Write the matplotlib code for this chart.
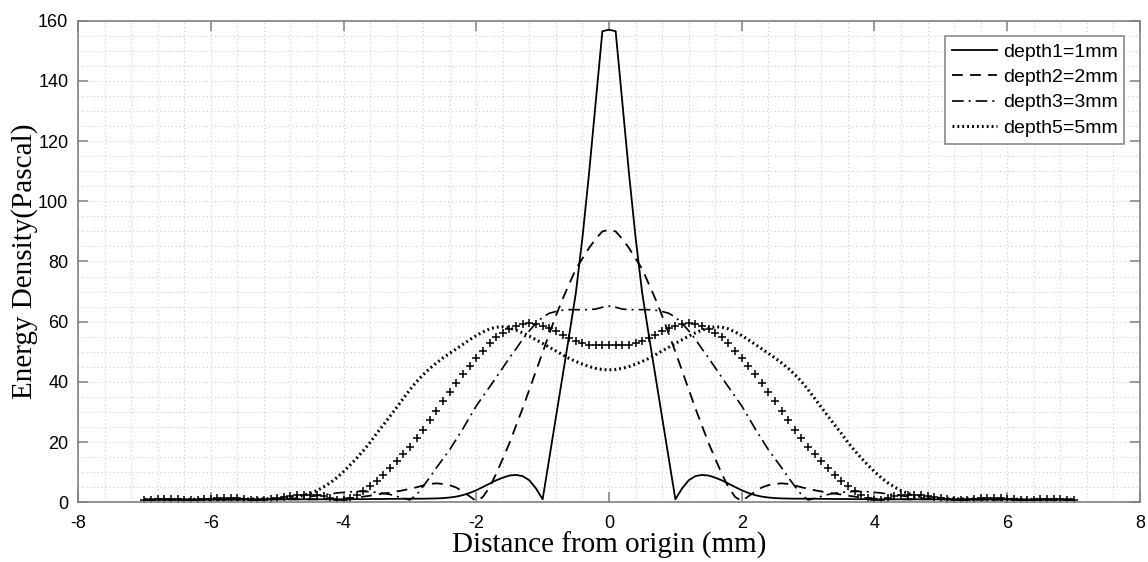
import numpy as np
import matplotlib
matplotlib.use("Agg")
import matplotlib.pyplot as plt
from matplotlib.ticker import MultipleLocator

# distance from origin (mm), read at 0.1 mm steps from 0 to 7; the curves are symmetric
x_half = np.round(np.arange(0, 71) / 10.0, 1)

depth1_half = [157, 156.5, 133, 109.5, 88, 69.5, 55.5, 41.8, 28.2, 14.6,
               1.0, 4.6, 7.3, 8.7, 9.1, 8.9, 8.2, 7.3, 6.2, 5.1,
               4.0, 3.1, 2.4, 1.9, 1.6, 1.4, 1.3, 1.25, 1.2, 1.2,
               1.2, 1.2, 1.15, 1.15, 1.1, 1.1, 1.1, 1.05, 1.05, 1.05,
               1.0, 1.0, 1.0, 1.0, 1.0, 1.0, 1.0, 1.0, 1.0, 1.0,
               1.0, 1.0, 1.0, 0.95, 0.95, 0.95, 0.95, 0.95, 0.95, 0.95,
               0.95, 0.9, 0.9, 0.9, 0.9, 0.9, 0.9, 0.9, 0.9, 0.9,
               0.9]

depth2_half = [90.5, 90, 87.5, 84.5, 81, 77.5, 72.5, 67.5, 62, 56,
               50, 43.8, 37.5, 31.3, 25.5, 19.7, 14.5, 9.5, 5.0, 1.8,
               0.4, 2.0, 3.5, 4.9, 5.7, 6.1, 6.3, 6.1, 5.6, 5.0,
               4.5, 4.0, 3.6, 3.2, 2.9, 2.6, 2.2, 1.9, 1.6, 1.4,
               1.2, 1.1, 1.1, 1.0, 1.0, 1.0, 1.0, 1.0, 1.0, 1.0,
               1.0, 1.0, 1.0, 1.0, 1.0, 0.95, 0.95, 0.95, 0.95, 0.95,
               0.95, 0.95, 0.9, 0.9, 0.9, 0.9, 0.9, 0.9, 0.9, 0.9,
               0.9]

depth3_half = [65.2, 64.8, 64.2, 64.0, 64.0, 64.0, 64.0, 63.8, 63.4, 62.8,
               61.5, 59.5, 57.0, 54.2, 51.0, 48.0, 44.7, 41.5, 38.3, 35.2,
               32.0, 28.3, 24.5, 21.0, 17.5, 14.5, 11.5, 8.3, 5.3, 2.5,
               0.8, 1.3, 2.0, 2.6, 3.0, 3.3, 3.5, 3.6, 3.6, 3.5,
               3.3, 3.1, 2.8, 2.5, 2.2, 1.9, 1.6, 1.4, 1.2, 1.1,
               1.0, 1.0, 1.0, 1.0, 1.0, 1.0, 1.0, 1.0, 0.95, 0.95,
               0.95, 0.95, 0.95, 0.9, 0.9, 0.9, 0.9, 0.9, 0.9, 0.9,
               0.9]

# marker-only curve (depth4), not listed in the legend
depth4_half = [52.3, 52.3, 52.3, 52.4, 52.8, 53.5, 54.5, 55.6, 56.8, 57.8,
               58.6, 59.2, 59.5, 59.3, 58.7, 57.7, 56.4, 54.8, 52.8, 50.4,
               47.8, 45.2, 42.6, 39.7, 36.7, 33.6, 30.4, 27.2, 24.0, 21.2,
               18.5, 16.0, 13.7, 11.4, 9.2, 7.2, 5.4, 3.6, 2.5, 1.5,
               0.9, 0.8, 1.5, 2.0, 2.3, 2.4, 2.4, 2.3, 2.0, 1.7,
               1.4, 1.1, 0.9, 0.8, 0.9, 1.1, 1.3, 1.4, 1.4, 1.3,
               1.2, 1.0, 0.9, 0.8, 0.9, 1.0, 1.1, 1.1, 1.0, 0.9,
               0.9]

depth5_half = [44.0, 44.1, 44.5, 45.1, 45.9, 46.8, 47.8, 49.0, 50.3, 51.5,
               52.8, 54.0, 55.2, 56.3, 57.2, 57.9, 58.3, 58.2, 57.6, 56.6,
               55.4, 54.0, 52.5, 51.0, 49.5, 48.0, 46.3, 44.5, 42.4, 40.1,
               37.4, 34.5, 31.5, 28.6, 25.7, 22.9, 19.9, 17.2, 14.7, 12.4,
               10.2, 8.2, 6.5, 5.1, 3.9, 3.0, 2.3, 1.9, 1.6, 1.4,
               1.3, 1.2, 1.2, 1.1, 1.1, 1.1, 1.0, 1.0, 1.0, 1.0,
               1.0, 1.0, 1.0, 1.0, 0.95, 0.95, 0.95, 0.95, 0.95, 0.95,
               0.95]

labels = ["depth1=1mm", "depth2=2mm", "depth3=3mm", "depth5=5mm"]


def mirror(half):
    half = np.asarray(half, dtype=float)
    return np.concatenate([half[:0:-1], half])


x = np.concatenate([-x_half[:0:-1], x_half])

sans = ["Liberation Sans", "DejaVu Sans"]
serif = ["Liberation Serif", "DejaVu Serif"]
plt.rcParams["font.family"] = sans
plt.rcParams["axes.unicode_minus"] = False

fig = plt.figure(figsize=(11.48, 5.62), dpi=100)
ax = fig.add_axes([0.068, 0.1062, 0.925, 0.857])

ax.plot(x, mirror(depth1_half), color="black", lw=1.3, label=labels[0])
ax.plot(x, mirror(depth2_half), color="black", lw=1.3, dashes=(6, 4), label=labels[1])
ax.plot(x, mirror(depth3_half), color="black", lw=1.2, dashes=(7, 3, 1.2, 3), label=labels[2])
ax.plot(x, mirror(depth4_half), color="black", ls="none", marker="+", ms=6, mew=1.1,
        label="_nolegend_")
ax.plot(x, mirror(depth5_half), color="black", lw=2.2, dashes=(0.6, 1.0), label=labels[3])

ax.set_xlim(-8, 8)
ax.set_ylim(0, 160)
ax.xaxis.set_major_locator(MultipleLocator(2))
ax.xaxis.set_minor_locator(MultipleLocator(0.4))
ax.yaxis.set_major_locator(MultipleLocator(20))
ax.yaxis.set_minor_locator(MultipleLocator(5))

ax.grid(which="both", linestyle=(0, (1, 2.5)), color="#cccccc", linewidth=0.8)
ax.set_axisbelow(True)

for sp in ax.spines.values():
    sp.set_color("#808080")
    sp.set_linewidth(1.2)
ax.tick_params(which="major", direction="in", length=7, width=1.1, color="#808080",
               top=True, right=True, labelsize=13, labelcolor="black")
ax.tick_params(axis="x", which="major", pad=9)
ax.tick_params(axis="y", which="major", pad=7)
ax.tick_params(which="minor", length=0, top=True, right=True)

ax.set_xlabel("Distance from origin (mm)", family=serif, fontsize=21, labelpad=0)
ax.set_ylabel("Energy Density(Pascal)", family=serif, fontsize=21, labelpad=0)

leg = ax.legend(loc="upper right", fontsize=14, frameon=True, fancybox=False,
                framealpha=1, edgecolor="#808080", borderpad=0.35, labelspacing=0.4,
                handlelength=2.3, handletextpad=0.3, borderaxespad=0.8)
leg.get_frame().set_linewidth(1.1)

fig.savefig("out.png", dpi=100)
